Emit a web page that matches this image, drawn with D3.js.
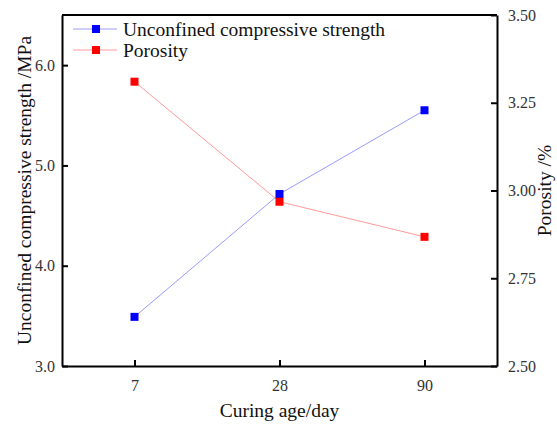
<!DOCTYPE html>
<html>
<head>
<meta charset="utf-8">
<title>Curing age</title>
<script src="https://d3js.org/d3.v7.min.js"></script>
<style>
body { margin: 0; background: #fff; }
</style>
</head>
<body>
<svg width="557" height="424"></svg>
<script>
// chart data
var ages = ["7", "28", "90"];
var strength = [3.49, 4.715, 5.55];
var porosity = [3.31, 2.968, 2.868];
var leftTicks = [3.0, 4.0, 5.0, 6.0];
var rightTicks = [2.50, 2.75, 3.00, 3.25, 3.50];

var serif = "'Liberation Serif', 'Times New Roman', Times, serif";

var svg = d3.select("svg"),
    m = {left: 62, right: 60, top: 15, bottom: 58},
    width = +svg.attr("width") - m.left - m.right,
    height = +svg.attr("height") - m.top - m.bottom;

var g = svg.append("g").attr("transform", "translate(" + m.left + "," + m.top + ")");

var x = d3.scalePoint().domain(ages).range([0, width]).padding(0.5);
var yL = d3.scaleLinear().domain([3, 6.5]).range([height, 0]);
var yR = d3.scaleLinear().domain([2.5, 3.5]).range([height, 0]);

// axes (ticks point inward)
var xAxis = g.append("g").attr("transform", "translate(0," + height + ")")
    .call(d3.axisBottom(x).tickSizeInner(-6).tickSizeOuter(0).tickPadding(14));
var lAxis = g.append("g")
    .call(d3.axisLeft(yL).tickValues(leftTicks).tickFormat(d3.format(".1f")).tickSizeInner(-6).tickSizeOuter(0).tickPadding(7));
var rAxis = g.append("g").attr("transform", "translate(" + width + ",0)")
    .call(d3.axisRight(yR).tickValues(rightTicks).tickFormat(d3.format(".2f")).tickSizeInner(-6).tickSizeOuter(0).tickPadding(11));
g.append("line").attr("x1", 0).attr("x2", width).attr("y1", 0).attr("y2", 0)
    .attr("stroke", "#000").attr("stroke-width", 2);

[xAxis, lAxis, rAxis].forEach(function(a) {
  a.select(".domain").attr("stroke-width", 2);
  a.selectAll(".tick line").attr("stroke-width", 2);
  a.selectAll(".tick text").style("font-family", serif).style("font-size", "16px").attr("fill", "#333");
});

// lines + markers
function series(vals, ys, lineCol, fill) {
  var line = d3.line().x(function(d, i) { return x(ages[i]); }).y(function(d) { return ys(d); });
  g.append("path").datum(vals).attr("d", line)
    .attr("fill", "none").attr("stroke", lineCol).attr("stroke-width", 1);
  g.selectAll(null).data(vals).enter().append("rect")
    .attr("x", function(d, i) { return x(ages[i]) - 4; })
    .attr("y", function(d) { return ys(d) - 4; })
    .attr("width", 8).attr("height", 8)
    .attr("fill", fill);
}
series(strength, yL, "#9a9aff", "#0000ff");
series(porosity, yR, "#ff9a9a", "#ff0000");

// legend
var legend = [["Unconfined compressive strength", "#9a9aff", "#0000ff"], ["Porosity", "#ff9a9a", "#ff0000"]];
var lg = svg.selectAll(".leg").data(legend).enter().append("g")
    .attr("class", "leg")
    .attr("transform", function(d, i) { return "translate(73," + (29 + i * 21) + ")"; });
lg.append("line").attr("x1", 0).attr("x2", 44).attr("stroke", function(d) { return d[1]; }).attr("stroke-width", 1);
lg.append("rect").attr("x", 19).attr("y", -4).attr("width", 8).attr("height", 8).attr("fill", function(d) { return d[2]; });
lg.append("text").attr("x", 50).attr("dy", "0.35em").style("font-family", serif).style("font-size", "19.5px").attr("fill", "#111")
    .text(function(d) { return d[0]; });

// axis titles
svg.append("text").attr("x", m.left + width / 2).attr("y", 417)
    .attr("text-anchor", "middle").style("font-family", serif).style("font-size", "19.5px").attr("fill", "#111").text("Curing age/day");
svg.append("text").attr("transform", "translate(31," + (m.top + height / 2) + ") rotate(-90)")
    .attr("text-anchor", "middle").style("font-family", serif).style("font-size", "19.5px").attr("fill", "#111").text("Unconfined compressive strength /MPa");
svg.append("text").attr("transform", "translate(551," + (m.top + height / 2) + ") rotate(-90)")
    .attr("text-anchor", "middle").style("font-family", serif).style("font-size", "19.5px").attr("fill", "#111").text("Porosity /%");
</script>
</body>
</html>
